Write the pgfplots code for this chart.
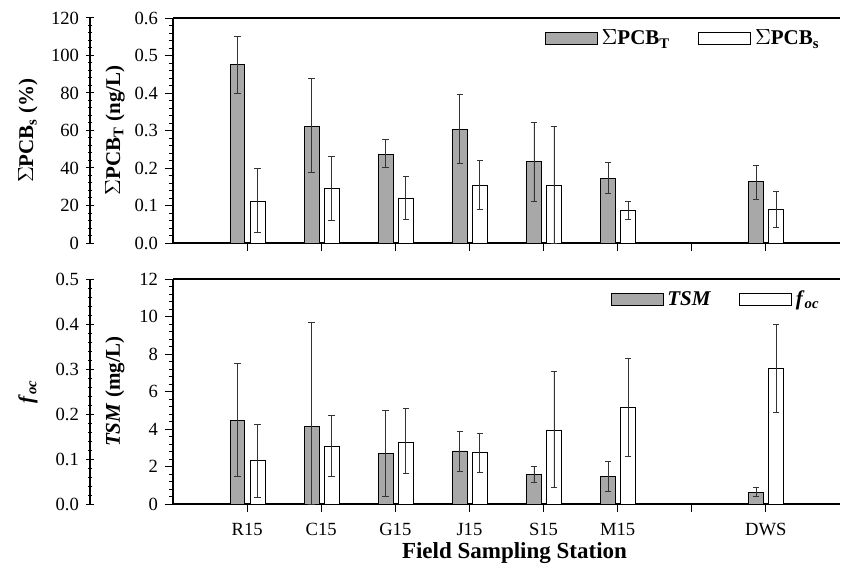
\documentclass[border=0pt]{standalone}
\usepackage{pgfplots}
\pgfplotsset{compat=1.18}
\usepackage{pgfplotstable}
\usepackage{fontspec}
\setmainfont{Liberation Serif}

\definecolor{bargray}{HTML}{A8A8A8}

% x, value, error plus, error minus
\pgfplotstableread{
x y ep em
1 0.476 0.074 0.076
2 0.312 0.126 0.125
3 0.237 0.038 0.035
4 0.303 0.094 0.092
5 0.217 0.104 0.106
6 0.173 0.042 0.042
8 0.164 0.044 0.047
}\pcbT
\pgfplotstableread{
x y ep em
1 22.4 17.2 16.7
2 29.2 16.8 17.1
3 24.0 11.6 11.6
4 30.9 13.2 12.9
5 30.8 31.2 30.8
6 17.6 4.6 5.0
8 18.1 9.6 9.6
}\pcbS
\pgfplotstableread{
x y ep em
1 4.48 3.02 3.02
2 4.12 5.59 4.12
3 2.70 2.28 2.27
4 2.83 1.06 1.07
5 1.58 0.45 0.44
6 1.49 0.80 0.80
8 0.64 0.23 0.21
}\tsm
\pgfplotstableread{
x y ep em
1 0.096 0.080 0.081
2 0.129 0.067 0.067
3 0.138 0.074 0.071
4 0.114 0.044 0.044
5 0.164 0.130 0.128
6 0.214 0.109 0.109
8 0.302 0.098 0.098
}\foc

\pgfplotsset{
  base/.style={
    scale only axis, height=112.5pt, ymin=0,
    tick align=outside,
    major tick length=4pt, minor tick length=2pt,
    minor y tick num=4,
    tick label style={font=\fontsize{9.3}{10}\selectfont},
    /pgf/number format/assume math mode=true,
    axis line style={line width=0.6pt},
    every tick/.style={black, line width=0.5pt},
    every axis y label/.style={at={(axis description cs:0,0.5)}, rotate=90,
      anchor=center, font=\fontsize{10.5}{12}\selectfont\bfseries},
  },
  inner/.style={base, width=333.5pt, xmin=0, xmax=9,
    axis x line*=box, axis y line*=left,
    xtick={1,...,8}, xtick pos=bottom,
    ylabel style={yshift=29pt},
  },
  % outer axis: its left edge is 41.5pt left of the inner one, same x scale
  outer/.style={base, width=375pt, xmin=-1.12, xmax=9, at={(-41.5pt,#1)},
    axis x line=none, axis y line=left, y axis line style={-},
    ylabel style={yshift=31pt},
  },
  bars/.style={ybar, bar width=0.2, bar shift=0pt, draw=black, line width=0.4pt,
    error bars/y dir=both, error bars/y explicit,
    error bars/error bar style={line width=0.4pt, black!80},
    error bars/error mark options={rotate=90, mark size=1.6pt, line width=0.4pt, black!80}},
  leg/.style={legend style={draw=none, fill=none, at={(0.985,0.985)}, anchor=north east,
    font=\fontsize{10.5}{12}\selectfont\bfseries, legend columns=2,
    /tikz/every even column/.append style={column sep=12pt}}},
}
\newcommand{\grayleg}{\addlegendimage{legend image code/.code={\draw[fill=bargray,draw=black,line width=0.4pt] (0pt,-3pt) rectangle (26pt,3pt);}}}
\newcommand{\whiteleg}{\addlegendimage{legend image code/.code={\draw[fill=white,draw=black,line width=0.4pt] (0pt,-3pt) rectangle (26pt,3pt);}}}

\begin{document}
\begin{tikzpicture}
\useasboundingbox (-86.5pt,-162.5pt) rectangle (334.5pt,121.5pt);
% ---- top panel
\begin{axis}[inner, leg, ymax=0.6, ytick={0,0.1,...,0.6},
  xticklabels={,,,,,,,},
  yticklabel style={/pgf/number format/.cd, fixed, fixed zerofill, precision=1},
  ylabel={$\Sigma$PCB\textsubscript{T} (ng/L)}]
\grayleg
\addlegendentry{$\Sigma$PCB\textsubscript{T}}
\whiteleg
\addlegendentry{$\Sigma$PCB\textsubscript{s}}
\addplot[bars, fill=bargray, forget plot]
  table[x expr=\thisrow{x}-0.13, y=y, y error plus=ep, y error minus=em] {\pcbT};
\end{axis}
\begin{axis}[outer=0pt, ymax=120, ytick={0,20,...,120},
  ylabel={$\Sigma$PCB\textsubscript{s} (\%)}]
\addplot[bars, fill=white]
  table[x expr=\thisrow{x}+0.14, y=y, y error plus=ep, y error minus=em] {\pcbS};
\end{axis}
% ---- bottom panel
\begin{axis}[inner, at={(0,-130.5pt)}, leg, ymax=12, ytick={0,2,...,12},
  xticklabels={R15,C15,G15,J15,S15,M15,,DWS},
  xticklabel style={yshift=-2pt},
  xlabel={Field Sampling Station},
  xlabel style={font=\fontsize{11.5}{13}\selectfont\bfseries,
    at={(axis description cs:0.5,0)}, anchor=center, yshift=-24.5pt, xshift=4pt},
  ylabel={\textit{TSM} (mg/L)}]
\grayleg
\addlegendentry{\textit{TSM}}
\whiteleg
\addlegendentry{\textit{f}\textsubscript{\textit{oc}}}
\addplot[bars, fill=bargray, forget plot]
  table[x expr=\thisrow{x}-0.13, y=y, y error plus=ep, y error minus=em] {\tsm};
\end{axis}
\begin{axis}[outer=-130.5pt, ymax=0.5, ytick={0,0.1,...,0.5},
  yticklabel style={/pgf/number format/.cd, fixed, fixed zerofill, precision=1},
  ylabel={\textit{f}\textsubscript{\textit{oc}}}]
\addplot[bars, fill=white]
  table[x expr=\thisrow{x}+0.14, y=y, y error plus=ep, y error minus=em] {\foc};
\end{axis}
\end{tikzpicture}
\end{document}
